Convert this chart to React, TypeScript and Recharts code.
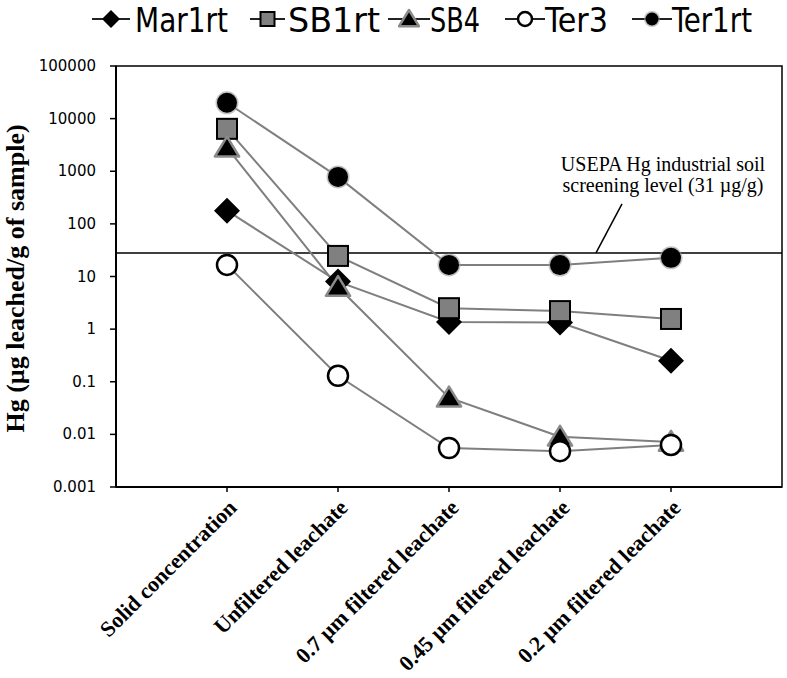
import React from 'react';
import {
  LineChart,
  Line,
  XAxis,
  YAxis,
  ReferenceLine,
  ReferenceArea,
  Legend,
} from 'recharts';

const categories = [
  'Solid concentration',
  'Unfiltered leachate',
  '0.7 µm filtered leachate',
  '0.45 µm filtered leachate',
  '0.2 µm filtered leachate',
];
const mar1rt = [178, 8, 1.37, 1.33, 0.25];
const sb1rt = [6400, 24.6, 2.5, 2.2, 1.56];
const sb4 = [2800, 6.3, 0.05, 0.009, 0.0072];
const ter3 = [16.6, 0.13, 0.0055, 0.0048, 0.0063];
const ter1rt = [20000, 780, 16.6, 16.5, 22.6];
const yTicks = [0.001, 0.01, 0.1, 1, 10, 100, 1000, 10000, 100000];
const yTickLabels = ['0.001', '0.01', '0.1', '1', '10', '100', '1000', '10000', '100000'];
const screeningLevel = 28;
const screeningText = ['USEPA Hg industrial soil', 'screening level (31 µg/g)'];

const data = categories.map((name, i) => ({
  pos: i + 1,
  name,
  Mar1rt: mar1rt[i],
  SB1rt: sb1rt[i],
  SB4: sb4[i],
  Ter3: ter3[i],
  Ter1rt: ter1rt[i],
}));

const SERIF = '"Liberation Serif", "Times New Roman", serif';
const LINE = '#7f7f7f';

// marker shapes, shared by the plot and the legend
const Diamond = ({ cx, cy, r }: any) => (
  <path d={`M${cx},${cy - r}L${cx + r},${cy}L${cx},${cy + r}L${cx - r},${cy}Z`} fill="#000" />
);
const Square = ({ cx, cy, r }: any) => (
  <rect x={cx - r} y={cy - r} width={r * 2} height={r * 2} fill="#808080" stroke="#000" strokeWidth={2} />
);
const Triangle = ({ cx, cy, r }: any) => (
  <path
    d={`M${cx},${cy - r}L${cx + r * 1.1},${cy + r * 0.8}L${cx - r * 1.1},${cy + r * 0.8}Z`}
    fill="#000"
    stroke="#8a8a8a"
    strokeWidth={2.5}
    strokeLinejoin="round"
  />
);
const OpenCircle = ({ cx, cy, r }: any) => (
  <circle cx={cx} cy={cy} r={r} fill="#fff" stroke="#000" strokeWidth={2.5} />
);
const FilledCircle = ({ cx, cy, r }: any) => (
  <g>
    <circle cx={cx} cy={cy} r={r + 1} fill="#9a9a9a" opacity={0.6} />
    <circle cx={cx} cy={cy} r={r - 0.5} fill="#000" />
  </g>
);

const series = [
  { key: 'Mar1rt', Shape: Diamond, r: 13, lr: 9, textX: 135, textW: 93, iconX: 92, iconW: 38 },
  { key: 'SB1rt', Shape: Square, r: 10, lr: 7, textX: 288, textW: 92, iconX: 250, iconW: 35 },
  { key: 'SB4', Shape: Triangle, r: 11, lr: 9, textX: 430, textW: 50, iconX: 388, iconW: 42 },
  { key: 'Ter3', Shape: OpenCircle, r: 10, lr: 7, textX: 545, textW: 63, iconX: 505, iconW: 40 },
  { key: 'Ter1rt', Shape: FilledCircle, r: 10.5, lr: 7, textX: 672, textW: 80, iconX: 632, iconW: 40 },
];

const renderLegend = () => (
  <svg width={787} height={40}>
    {series.map((s) => {
      const mid = s.iconX + s.iconW / 2;
      return (
        <g key={s.key}>
          <line x1={s.iconX} x2={s.iconX + s.iconW} y1={19} y2={19} stroke="#222" strokeWidth={2} />
          <s.Shape cx={mid} cy={19} r={s.lr} />
          <text
            x={s.textX}
            y={32}
            fontSize={34}
            fontFamily='"Liberation Sans Narrow", "DejaVu Sans Condensed", "Arial Narrow", sans-serif'
            textLength={s.textW}
            lengthAdjust="spacingAndGlyphs"
            fill="#000"
          >
            {s.key}
          </text>
        </g>
      );
    })}
  </svg>
);

const XTick = ({ x, y, payload }: any) => {
  const ax = x + 11;
  const ay = y + 15;
  return (
    <text
      x={ax}
      y={ay}
      transform={`rotate(-45, ${ax}, ${ay})`}
      textAnchor="end"
      fontFamily={SERIF}
      fontWeight="bold"
      fontSize={22}
      fill="#000"
    >
      {categories[payload.value - 1]}
    </text>
  );
};

const YTick = ({ x, y, payload }: any) => (
  <text x={x} y={y} dy={5} textAnchor="end" fontFamily='"DejaVu Sans", Verdana, sans-serif' fontSize={15} fill="#000">
    {yTickLabels[yTicks.indexOf(payload.value)]}
  </text>
);

const ScreeningLabel = ({ viewBox }: any) => {
  const { x, y } = viewBox;
  return (
    <g>
      <text x={x + 547} y={y - 82} textAnchor="middle" fontFamily={SERIF} fontSize={20} fill="#000">
        {screeningText[0]}
      </text>
      <text x={x + 547} y={y - 61} textAnchor="middle" fontFamily={SERIF} fontSize={20} fill="#000">
        {screeningText[1]}
      </text>
      <line x1={x + 506} y1={y - 49} x2={x + 480} y2={y} stroke="#000" strokeWidth={1.5} />
    </g>
  );
};

const YLabel = ({ viewBox }: any) => {
  const cx = 15;
  const cy = viewBox.y + viewBox.height / 2 + 2;
  return (
    <text
      x={cx}
      y={cy}
      transform={`rotate(-90, ${cx}, ${cy})`}
      textAnchor="middle"
      dominantBaseline="central"
      fontFamily={SERIF}
      fontWeight="bold"
      fontSize={26}
      fill="#000"
    >
      Hg (µg leached/g of sample)
    </text>
  );
};

export default function App() {
  return (
    <div style={{ position: 'absolute', left: 0, top: 0, background: '#fff' }}>
      <LineChart width={787} height={678} data={data} margin={{ top: 66, right: 5, bottom: 0, left: 0 }}>
        <Legend
          verticalAlign="middle"
          align="center"
          content={renderLegend}
          wrapperStyle={{ position: 'absolute', top: 0, left: 0, width: 787, height: 40 }}
        />
        <XAxis
          dataKey="pos"
          type="number"
          domain={[0, 6]}
          ticks={[1, 2, 3, 4, 5]}
          height={191}
          axisLine={{ stroke: '#000', strokeWidth: 2 }}
          tickLine={{ stroke: '#000', strokeWidth: 1.5 }}
          tickSize={5}
          tick={<XTick />}
          interval={0}
        />
        <YAxis
          scale="log"
          domain={[0.001, 100000]}
          ticks={yTicks}
          allowDataOverflow
          width={116}
          axisLine={{ stroke: '#000', strokeWidth: 2 }}
          tickLine={{ stroke: '#000', strokeWidth: 1.5 }}
          tickSize={6}
          tickMargin={14}
          tick={<YTick />}
          interval={0}
          label={<YLabel />}
        />
        <ReferenceArea x1={0} x2={6} y1={0.001} y2={100000} fill="none" stroke="#000" strokeWidth={1.5} />
        <ReferenceLine y={screeningLevel} stroke="#000" strokeWidth={1.5} label={<ScreeningLabel />} />
        {series.map((s) => (
          <Line
            key={s.key}
            dataKey={s.key}
            stroke={LINE}
            strokeWidth={2}
            isAnimationActive={false}
            dot={(p: any) => <s.Shape key={`${s.key}-${p.index}`} cx={p.cx} cy={p.cy} r={s.r} />}
            activeDot={false}
          />
        ))}
      </LineChart>
    </div>
  );
}
